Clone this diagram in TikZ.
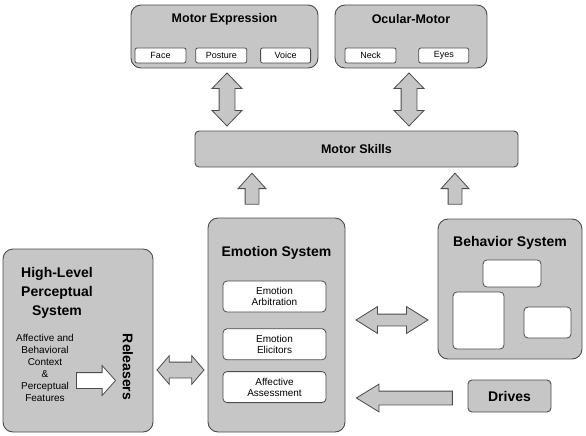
\documentclass[tikz,border=0pt]{standalone}
\usepackage{fontspec}
\setmainfont{Liberation Sans}
\usetikzlibrary{arrows.meta, positioning, shapes.arrows}

\begin{document}
\begin{tikzpicture}[
  x=1pt, y=-1pt,
  sysbox/.style={draw=black!70, fill=gray!45, line width=0.9pt, rounded corners=10pt},
  skillbar/.style={draw=black!70, fill=gray!45, line width=0.9pt, rounded corners=4pt,
                   font=\fontsize{12.5}{14}\selectfont\bfseries},
  partbox/.style={draw=black!70, fill=white, line width=0.8pt, rounded corners=2pt,
                  minimum height=15pt, inner sep=0pt, font=\fontsize{9}{10}\selectfont},
  subsys/.style={draw=black!70, fill=white, line width=0.8pt, rounded corners=4pt,
                 minimum width=103pt, minimum height=31pt, inner sep=0pt, align=center,
                 font=\fontsize{10}{11}\selectfont},
  boxtitle/.style={font=\fontsize{14}{19}\selectfont\bfseries, align=center},
  smalltitle/.style={font=\fontsize{12.5}{14}\selectfont\bfseries},
  oneway/.style={single arrow, draw=black!70, fill=gray!45, line width=0.8pt, inner xsep=0pt},
  twoway/.style={double arrow, draw=black!70, fill=gray!45, line width=0.8pt, inner xsep=0pt},
]
\useasboundingbox (0,0) rectangle (586,436);

% motor output
\node[sysbox, minimum width=187pt, minimum height=63pt] (mexp) at (224.5,36.5) {};
\node[smalltitle] (mexp-t) at (224.5,19) {Motor Expression};
\node[partbox, minimum width=51pt] (face) at (160.5,55.5) {Face};
\node[partbox, minimum width=51pt, right=9pt of face] (posture) {Posture};
\node[partbox, minimum width=50pt, right=13pt of posture] (voice) {Voice};

\node[sysbox, minimum width=152pt, minimum height=63pt] (ocular) at (411,36.5) {};
\node[smalltitle] (ocular-t) at (411,19) {Ocular-Motor};
\node[partbox, minimum width=51pt] (neck) at (370.5,55.5) {Neck};
\node[partbox, minimum width=50pt, right=22pt of neck] (eyes) {Eyes};

\node[skillbar, minimum width=323pt, minimum height=36pt] (skills) at (356.5,149) {Motor Skills};

\node[twoway, rotate=90, minimum height=53pt, inner ysep=7.5pt,
      double arrow head extend=7pt, double arrow tip angle=88] (a-mexp) at (227,99.5) {};
\node[twoway, rotate=90, minimum height=53pt, inner ysep=7.5pt,
      double arrow head extend=7pt, double arrow tip angle=88] (a-ocular) at (409,99.5) {};
\node[oneway, rotate=90, minimum height=31pt, inner ysep=6.5pt,
      single arrow head extend=7pt, single arrow tip angle=84] (a-emo) at (252,192.5) {};
\node[oneway, rotate=90, minimum height=31pt, inner ysep=6.5pt,
      single arrow head extend=7pt, single arrow tip angle=84] (a-beh) at (455,192.5) {};

% emotion system
\node[sysbox, minimum width=137pt, minimum height=214pt] (emotion) at (276.5,325) {};
\node[boxtitle] (emotion-t) at (276.5,253) {Emotion System};
\node[subsys] (arbit) at (274.5,296.5) {Emotion\\Arbitration};
\node[subsys, below=16pt of arbit] (elicit) {Emotion\\Elicitors};
\node[subsys, below=11pt of elicit] (assess) {Affective\\Assessment};

% behavior system
\node[sysbox, minimum width=144pt, minimum height=140pt] (behavior) at (510,289) {};
\node[boxtitle] (behavior-t) at (510,243) {Behavior System};
\node[subsys, minimum width=58pt, minimum height=27pt] (beh1) at (512,273.5) {};
\node[subsys, minimum width=51pt, minimum height=57pt] (beh2) at (478.5,320.5) {};
\node[subsys, minimum width=47pt, minimum height=31pt] (beh3) at (547.5,322.5) {};

\node[skillbar, font=\fontsize{14}{16}\selectfont\bfseries,
      minimum width=83pt, minimum height=32pt] (drives) at (509.5,396) {Drives};

\node[twoway, minimum height=72pt, inner ysep=5.5pt,
      double arrow head extend=7.5pt, double arrow tip angle=64] (a-emo-beh) at (392,320) {};
\node[oneway, rotate=180, minimum height=96pt, inner ysep=6.5pt,
      single arrow head extend=7pt, single arrow tip angle=63] (a-drives) at (410,398) {};

% perception
\node[sysbox, minimum width=150pt, minimum height=183pt] (percept) at (78,340.5) {};
\node[boxtitle] (percept-t) at (57,293) {High-Level\\Perceptual\\System};
\node[align=center, font=\fontsize{10}{12}\selectfont] (context) at (45,368)
  {Affective and\\Behavioral\\Context\\\&\\Perceptual\\Features};
\node[oneway, fill=white, minimum height=39pt, inner ysep=7.5pt,
      single arrow head extend=7pt, single arrow tip angle=96] (a-context) at (92.5,380.5) {};
\node[boxtitle, rotate=-90] (releasers) at (128,367) {Releasers};

\node[twoway, minimum height=47pt, inner ysep=7.5pt,
      double arrow head extend=6.5pt, double arrow tip angle=99] (a-per-emo) at (180.5,370) {};
\end{tikzpicture}
\end{document}
